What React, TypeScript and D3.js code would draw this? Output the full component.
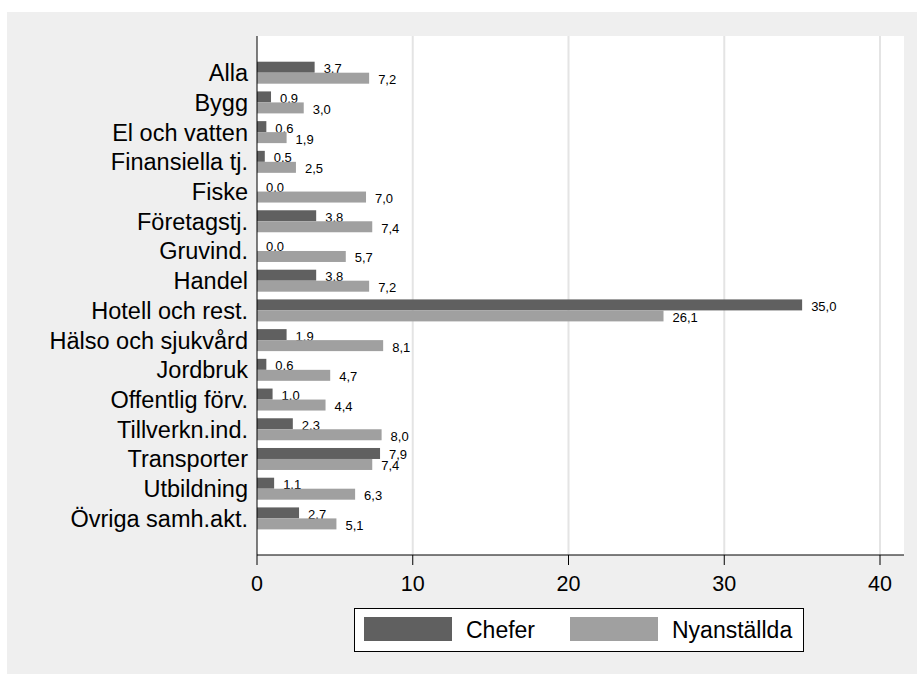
import React from "react";
import * as d3 from "d3";

const categories = [
  "Alla", "Bygg", "El och vatten", "Finansiella tj.", "Fiske", "Företagstj.",
  "Gruvind.", "Handel", "Hotell och rest.", "Hälso och sjukvård", "Jordbruk",
  "Offentlig förv.", "Tillverkn.ind.", "Transporter", "Utbildning", "Övriga samh.akt.",
];
const chefer = [3.7, 0.9, 0.6, 0.5, 0.0, 3.8, 0.0, 3.8, 35.0, 1.9, 0.6, 1.0, 2.3, 7.9, 1.1, 2.7];
const nyanstallda = [7.2, 3.0, 1.9, 2.5, 7.0, 7.4, 5.7, 7.2, 26.1, 8.1, 4.7, 4.4, 8.0, 7.4, 6.3, 5.1];
const seriesNames = ["Chefer", "Nyanställda"];
const seriesColors = ["#606060", "#a0a0a0"];
const xTicks = [0, 10, 20, 30, 40];

const W = 917, H = 674;
const plot = { left: 257, right: 904, top: 36, bottom: 555 };
const font = "'Liberation Sans', Arial, Helvetica, sans-serif";

export default function App() {
  const x = d3.scaleLinear().domain([0, 40]).range([257, 880]);
  const y = d3.scaleBand<string>().domain(categories).range([61.7, 529.4]).paddingInner(0.26).paddingOuter(0);
  const sub = d3.scaleBand<string>().domain(seriesNames).range([0, y.bandwidth()]);
  const series = [chefer, nyanstallda];
  const fmt = (v: number) => v.toFixed(1).replace(".", ",");

  return (
    <svg width={W} height={H} style={{ position: "absolute", left: 0, top: 0 }} fontFamily={font}>
      <rect x={7} y={12} width={W - 7} height={H - 12} fill="#efefef" />
      <rect x={plot.left} y={plot.top} width={plot.right - plot.left} height={plot.bottom - plot.top} fill="#ffffff" />
      {xTicks.filter((t) => t > 0).map((t) => (
        <line key={"g" + t} x1={x(t)} x2={x(t)} y1={plot.top} y2={plot.bottom} stroke="#e4e4e4" strokeWidth={2} />
      ))}
      {series.map((vals, si) =>
        categories.map((c, i) => {
          const y0 = (y(c) as number) + (sub(seriesNames[si]) as number);
          const bh = sub.bandwidth();
          return (
            <g key={si + "-" + i}>
              <rect x={x(0)} y={y0} width={x(vals[i]) - x(0)} height={bh} fill={seriesColors[si]} />
              <text x={x(vals[i]) + 9} y={y0 + bh + 0.5} fontSize={13} fill="#000">{fmt(vals[i])}</text>
            </g>
          );
        })
      )}
      <line x1={plot.left} x2={plot.left} y1={plot.top} y2={plot.bottom} stroke="#000" strokeWidth={1} />
      <line x1={plot.left} x2={plot.right} y1={plot.bottom} y2={plot.bottom} stroke="#000" strokeWidth={1} />
      {xTicks.map((t) => (
        <g key={"t" + t}>
          <line x1={x(t)} x2={x(t)} y1={plot.bottom} y2={plot.bottom + 10} stroke="#000" strokeWidth={1} />
          <text x={x(t)} y={591} fontSize={21.5} textAnchor="middle" fill="#000">{t}</text>
        </g>
      ))}
      {categories.map((c) => (
        <text key={"c" + c} x={248} y={(y(c) as number) + y.bandwidth() / 2} dy="0.36em" fontSize={23.5} textAnchor="end" fill="#000">{c}</text>
      ))}
      <rect x={354.5} y={608.5} width={449} height={43} fill="#fff" stroke="#000" strokeWidth={1} />
      {seriesNames.map((n, i) => (
        <g key={"l" + n}>
          <rect x={364 + i * 206} y={617} width={88} height={24} fill={seriesColors[i]} />
          <text x={466 + i * 206} y={638} fontSize={23} fill="#000">{n}</text>
        </g>
      ))}
    </svg>
  );
}
